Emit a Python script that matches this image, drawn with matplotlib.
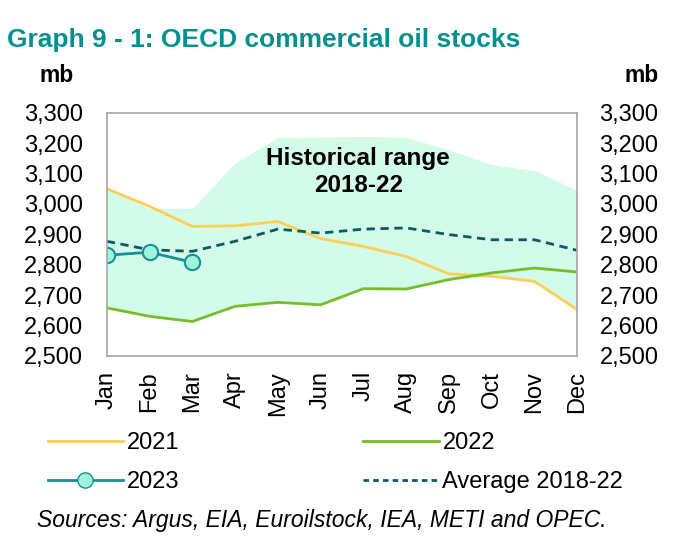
import matplotlib.pyplot as plt
from matplotlib.lines import Line2D

plt.rcParams['font.family'] = ['Liberation Sans', 'DejaVu Sans']

months = ['Jan', 'Feb', 'Mar', 'Apr', 'May', 'Jun', 'Jul', 'Aug', 'Sep', 'Oct', 'Nov', 'Dec']
range_max = [3050, 2985, 2985, 3135, 3219, 3220, 3222, 3219, 3178, 3129, 3110, 3044]
range_min = [2658, 2630, 2613, 2663, 2676, 2668, 2721, 2720, 2751, 2762, 2745, 2652]
y2021 = [3050, 2992, 2926, 2928, 2942, 2886, 2860, 2827, 2770, 2762, 2745, 2652]
y2022 = [2658, 2630, 2613, 2663, 2676, 2668, 2721, 2720, 2751, 2773, 2789, 2776]
y2023 = [2831, 2841, 2808]
avg = [2877, 2849, 2844, 2877, 2917, 2904, 2917, 2921, 2899, 2882, 2882, 2847]

c_fill = '#d3fbea'
c21 = '#ffcf55'
c22 = '#77bc2b'
c23 = '#18909a'
c23_face = '#9ff5d8'
c_avg = '#0d5a62'
c_title = '#00918f'

fig = plt.figure(figsize=(6.8, 5.5), dpi=100)
ax = fig.add_axes([0.157, 0.353, 0.692, 0.442])
x = range(len(months))

ax.fill_between(x, range_min, range_max, color=c_fill, lw=0)
ax.plot(x, y2021, color=c21, lw=2)
ax.plot(x, y2022, color=c22, lw=2)
ax.plot(x, avg, color=c_avg, lw=2, ls=(0, (3, 2)))
ax.plot(range(len(y2023)), y2023, color=c23, lw=2, marker='o', ms=11,
        mfc=c23_face, mec=c23, mew=1.5)

ax.set_xlim(0, 11)
ax.set_ylim(2500, 3300)
yticks = list(range(2500, 3301, 100))
ax.set_yticks(yticks)
ax.set_yticklabels([f'{v:,}' for v in yticks], fontsize=17)
ax.set_xticks(list(x))
ax.set_xticklabels(months, rotation=90, fontsize=17)
ax.tick_params(axis='y', length=0, pad=17)
ax.tick_params(axis='x', length=0, pad=11)
for s in ax.spines.values():
    s.set_color('#a6a6a6')
    s.set_linewidth(1.2)

ax2 = ax.twinx()
ax2.set_ylim(2500, 3300)
ax2.set_yticks(yticks)
ax2.set_yticklabels([f'{v:,}' for v in yticks], fontsize=17)
ax2.tick_params(length=0, pad=16)
for s in ax2.spines.values():
    s.set_visible(False)

ax.text(5.88, 3106, 'Historical range\n2018-22', ha='center', va='center',
        fontsize=17.5, fontweight='bold', linespacing=1.2)

fig.text(0.01, 0.927, 'Graph 9 - 1: OECD commercial oil stocks', color=c_title,
         fontsize=19, fontweight='bold', va='center')
fig.text(0.084, 0.862, 'mb', fontsize=16.5, fontweight='bold', ha='center', va='center')
fig.text(0.943, 0.862, 'mb', fontsize=16.5, fontweight='bold', ha='center', va='center')

handles = [
    Line2D([], [], color=c21, lw=2),
    Line2D([], [], color=c23, lw=2, marker='o', ms=11, mfc=c23_face, mec=c23),
    Line2D([], [], color=c22, lw=2),
    Line2D([], [], color=c_avg, lw=2, ls=(0, (2, 1.5))),
]
labels = ['2021', '2023', '2022', 'Average 2018-22']
fig.legend(handles, labels, ncol=2, loc='center left', bbox_to_anchor=(0.07, 0.159),
           frameon=False, fontsize=17, handlelength=3.2, handletextpad=0.15,
           columnspacing=7.8, labelspacing=0.72, borderaxespad=0, borderpad=0)

fig.text(0.054, 0.053, 'Sources: Argus, EIA, Euroilstock, IEA, METI and OPEC.',
         fontsize=16.5, style='italic', va='center')

fig.savefig('out.png', dpi=100)
